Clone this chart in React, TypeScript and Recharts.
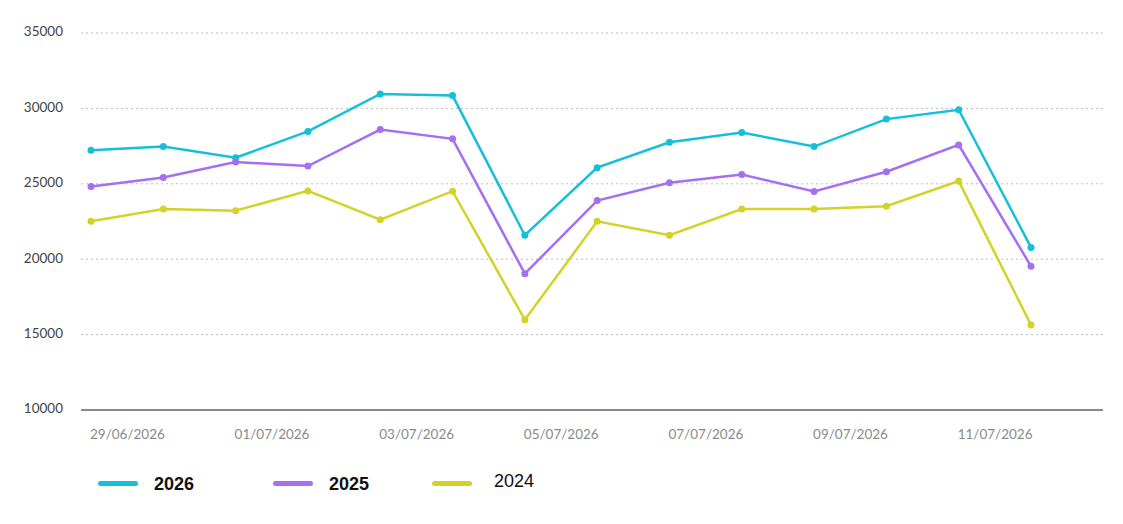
import { LineChart, Line, XAxis, YAxis, CartesianGrid } from 'recharts'

if (typeof document !== 'undefined') {
  document.body.style.margin = '0'
}

const dates = [
  '29/06/2026', '30/06/2026', '01/07/2026', '02/07/2026', '03/07/2026', '04/07/2026', '05/07/2026',
  '06/07/2026', '07/07/2026', '08/07/2026', '09/07/2026', '10/07/2026', '11/07/2026', '12/07/2026',
]
const values2026 = [27220, 27470, 26730, 28470, 30960, 30850, 21590, 26070, 27750, 28400, 27470, 29290, 29910, 20780]
const values2025 = [24820, 25420, 26440, 26180, 28600, 27980, 19040, 23890, 25070, 25620, 24490, 25800, 27580, 19530]
const values2024 = [22510, 23330, 23220, 24530, 22620, 24510, 15980, 22510, 21590, 23330, 23330, 23510, 25180, 15640]
const yTicks = [10000, 15000, 20000, 25000, 30000, 35000]

const SERIES = [
  { key: 'y2026', name: '2026', color: '#14c0d9', bold: true },
  { key: 'y2025', name: '2025', color: '#a66ff2', bold: true },
  { key: 'y2024', name: '2024', color: '#d3d229', bold: false },
]

const data = dates.map((date, i) => ({
  date,
  y2026: values2026[i],
  y2025: values2025[i],
  y2024: values2024[i],
}))

const FONT = 'Lato, "Open Sans", sans-serif'

function DateTick({ x, y, payload }: any) {
  return (
    <text x={x - 1} y={y + 6} textAnchor="start" dominantBaseline="middle" fill="#8a8a8a" fontSize={13.5} fontFamily={FONT}>
      {payload.value}
    </text>
  )
}

function ValueTick({ x, y, payload }: any) {
  return (
    <text x={x} y={y} textAnchor="end" dominantBaseline="middle" fill="#444" fontSize={13.5} fontFamily={FONT}>
      {payload.value}
    </text>
  )
}

function LegendRow() {
  const slots = [98, 273, 432]
  return (
    <div style={{ position: 'absolute', left: 0, top: 473, height: 30, width: 1123 }}>
      {SERIES.map((s, i) => (
        <div key={s.key} style={{ position: 'absolute', left: slots[i], top: 0, display: 'flex', alignItems: 'center' }}>
          <span style={{ width: 40, height: 5, borderRadius: 3, backgroundColor: s.color, display: 'inline-block' }} />
          <span
            style={{
              marginLeft: s.bold ? 16 : 22,
              fontFamily: '"Liberation Sans", Arial, sans-serif',
              fontSize: 18,
              fontWeight: s.bold ? 700 : 400,
              color: '#111',
              position: 'relative',
              top: s.bold ? 1 : -2,
            }}
          >
            {s.name}
          </span>
        </div>
      ))}
    </div>
  )
}

export default function App() {
  return (
    <div style={{ position: 'relative', width: 1123, height: 524, background: '#fff' }}>
      <LineChart width={1123} height={524} data={data} margin={{ top: 33, right: 20, bottom: 74, left: 0 }}>
        <CartesianGrid vertical={false} stroke="#bdbdbd" strokeDasharray="2 3" horizontalValues={[15000, 20000, 25000, 30000, 35000]} />
        <XAxis
          dataKey="date"
          interval={1}
          padding={{ left: 10, right: 72 }}
          tickLine={false}
          stroke="#111"
          axisLine={{ stroke: '#111', strokeWidth: 1 }}
          tick={<DateTick />}
          height={40}
          tickMargin={14}
        />
        <YAxis
          domain={[10000, 35000]}
          ticks={yTicks}
          width={81}
          tickLine={false}
          axisLine={false}
          tickSize={0}
          tickMargin={18}
          tick={<ValueTick />}
        />
        {SERIES.map((s) => (
          <Line
            key={s.key}
            type="linear"
            dataKey={s.key}
            name={s.name}
            stroke={s.color}
            strokeWidth={2.5}
            dot={{ r: 3.5, fill: s.color, stroke: s.color, strokeWidth: 0 }}
            isAnimationActive={false}
          />
        ))}
      </LineChart>
      <LegendRow />
    </div>
  )
}
